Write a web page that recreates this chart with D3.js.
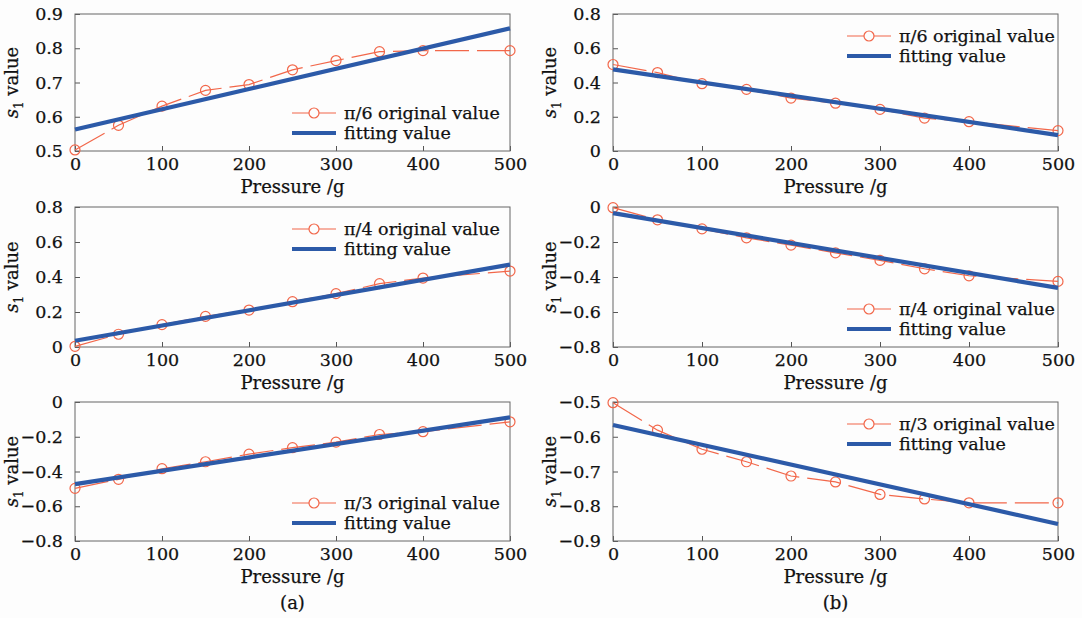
<!DOCTYPE html>
<html>
<head>
<meta charset="utf-8">
<script src="https://cdn.jsdelivr.net/npm/d3@7"></script>
<style>
  body { margin: 0; background: #fdfdfd; }
  text { font-family: "DejaVu Serif", serif; fill: #111; stroke: #111; stroke-width: 0.25px; }
</style>
</head>
<body>
<script>
// pressure values (g) shared by every panel
let pressure = [0, 50, 100, 150, 200, 250, 300, 350, 400, 500];
let xTicks = [0, 100, 200, 300, 400, 500];

// measured s1 values, column (a)
let a1Orig = [0.503, 0.575, 0.631, 0.677, 0.694, 0.737, 0.764, 0.790, 0.793, 0.793];
let a2Orig = [0.004, 0.073, 0.128, 0.175, 0.211, 0.259, 0.305, 0.362, 0.394, 0.434];
let a3Orig = [-0.497, -0.445, -0.384, -0.344, -0.300, -0.263, -0.231, -0.187, -0.171, -0.114];
// measured s1 values, column (b)
let b1Orig = [0.505, 0.458, 0.393, 0.360, 0.309, 0.279, 0.243, 0.192, 0.171, 0.119];
let b2Orig = [-0.004, -0.073, -0.125, -0.176, -0.218, -0.262, -0.305, -0.353, -0.393, -0.425];
let b3Orig = [-0.502, -0.581, -0.636, -0.672, -0.713, -0.730, -0.766, -0.779, -0.790, -0.790];

// fitted lines, value at 0 g and at 500 g
let fitX = [0, 500];
let a1Fit = [0.563, 0.858];
let a2Fit = [0.036, 0.471];
let a3Fit = [-0.473, -0.088];
let b1Fit = [0.477, 0.093];
let b2Fit = [-0.035, -0.462];
let b3Fit = [-0.566, -0.851];

// y ranges and ticks
let a1Y = [0.5, 0.9], a1Ticks = [0.5, 0.6, 0.7, 0.8, 0.9];
let a2Y = [0, 0.8],   a2Ticks = [0, 0.2, 0.4, 0.6, 0.8];
let a3Y = [-0.8, 0],  a3Ticks = [-0.8, -0.6, -0.4, -0.2, 0];
let b1Y = [0, 0.8],   b1Ticks = [0, 0.2, 0.4, 0.6, 0.8];
let b2Y = [-0.8, 0],  b2Ticks = [-0.8, -0.6, -0.4, -0.2, 0];
let b3Y = [-0.9, -0.5], b3Ticks = [-0.9, -0.8, -0.7, -0.6, -0.5];

let angles = ['π/6', 'π/4', 'π/3'];

let w = 1082, h = 618;
let cols = [[75, 510], [613, 1058]];
let rows = [[14, 151], [207, 347], [402, 541]];
let red = '#f2674a', blue = '#2c5aa8';

let panels = [
  {c: 0, r: 0, orig: a1Orig, fit: a1Fit, dom: a1Y, ticks: a1Ticks, leg: 'bottom'},
  {c: 0, r: 1, orig: a2Orig, fit: a2Fit, dom: a2Y, ticks: a2Ticks, leg: 'top'},
  {c: 0, r: 2, orig: a3Orig, fit: a3Fit, dom: a3Y, ticks: a3Ticks, leg: 'bottom'},
  {c: 1, r: 0, orig: b1Orig, fit: b1Fit, dom: b1Y, ticks: b1Ticks, leg: 'top'},
  {c: 1, r: 1, orig: b2Orig, fit: b2Fit, dom: b2Y, ticks: b2Ticks, leg: 'bottom'},
  {c: 1, r: 2, orig: b3Orig, fit: b3Fit, dom: b3Y, ticks: b3Ticks, leg: 'top'}
];

let svg = d3.select('body').append('svg')
  .attr('width', w).attr('height', h)
  .style('background', '#fdfdfd');

let fmt = d => d3.format('~g')(d).replace('-', '\u2212');

panels.forEach(p => {
  let [x0, x1] = cols[p.c];
  let [y0, y1] = rows[p.r];

  let x = d3.scaleLinear().domain([0, 500]).range([x0, x1]);
  let y = d3.scaleLinear().domain(p.dom).range([y1, y0]);

  let g = svg.append('g');

  // axes (ticks inward)
  let xAxis = d3.axisBottom(x).tickValues(xTicks).tickSizeInner(-5).tickSizeOuter(0).tickPadding(7);
  let yAxis = d3.axisLeft(y).tickValues(p.ticks).tickFormat(fmt).tickSizeInner(-5).tickSizeOuter(0).tickPadding(12);

  let gx = g.append('g').attr('transform', 'translate(0,' + y1 + ')').call(xAxis);
  let gy = g.append('g').attr('transform', 'translate(' + x0 + ',0)').call(yAxis);
  [gx, gy].forEach(a => {
    a.select('.domain').remove();
    a.selectAll('line').attr('stroke', '#555');
    a.selectAll('text').style('font-family', '"DejaVu Serif", serif').style('font-size', '17.5px').attr('fill', '#111');
  });

  // box
  g.append('rect')
   .attr('x', x0).attr('y', y0).attr('width', x1 - x0).attr('height', y1 - y0)
   .attr('fill', 'none').attr('stroke', '#666').attr('stroke-width', 1);

  // original values
  let line = d3.line().x(d => x(d[0])).y(d => y(d[1]));
  let pts = pressure.map((v, i) => [v, p.orig[i]]);
  g.append('path').datum(pts).attr('d', line)
   .attr('fill', 'none').attr('stroke', red).attr('stroke-width', 1.2)
   .attr('stroke-dasharray', '34,8');
  g.selectAll('.pt').data(pts).enter().append('circle')
   .attr('cx', d => x(d[0])).attr('cy', d => y(d[1])).attr('r', 5)
   .attr('fill', 'none').attr('stroke', red).attr('stroke-width', 1.2);

  // fitting line
  g.append('path').datum(fitX.map((v, i) => [v, p.fit[i]])).attr('d', line)
   .attr('fill', 'none').attr('stroke', blue).attr('stroke-width', 4.2);

  // axis titles
  g.append('text').attr('x', (x0 + x1) / 2).attr('y', y1 + 42)
   .attr('text-anchor', 'middle').style('font-size', '18px').text('Pressure /g');
  let yl = g.append('text')
   .attr('transform', 'translate(' + (x0 - 57) + ',' + ((y0 + y1) / 2) + ') rotate(-90)')
   .attr('text-anchor', 'middle').style('font-size', '18px');
  yl.append('tspan').style('font-style', 'italic').text('s');
  yl.append('tspan').attr('dy', 5).style('font-size', '12px').text('1');
  yl.append('tspan').attr('dy', -5).text(' value');

  // legend
  let ly = p.leg == 'top' ? y0 + 22 : y1 - 38;
  let lx = x1 - (p.c == 0 ? 218 : 211);
  let leg = g.append('g');
  leg.append('line').attr('x1', lx).attr('x2', lx + 44).attr('y1', ly).attr('y2', ly)
     .attr('stroke', red).attr('stroke-width', 1.2);
  leg.append('circle').attr('cx', lx + 22).attr('cy', ly).attr('r', 5)
     .attr('fill', '#fdfdfd').attr('stroke', red).attr('stroke-width', 1.2);
  leg.append('text').attr('x', lx + 52).attr('y', ly).attr('dy', '0.35em')
     .style('font-size', '17.5px').text(angles[p.r] + ' original value');
  leg.append('line').attr('x1', lx).attr('x2', lx + 44).attr('y1', ly + 20).attr('y2', ly + 20)
     .attr('stroke', blue).attr('stroke-width', 4.2);
  leg.append('text').attr('x', lx + 52).attr('y', ly + 20).attr('dy', '0.35em')
     .style('font-size', '17.5px').text('fitting value');
});

// captions
svg.append('text').attr('x', (cols[0][0] + cols[0][1]) / 2).attr('y', 609)
   .attr('text-anchor', 'middle').style('font-size', '18px').text('(a)');
svg.append('text').attr('x', (cols[1][0] + cols[1][1]) / 2).attr('y', 609)
   .attr('text-anchor', 'middle').style('font-size', '18px').text('(b)');
</script>
</body>
</html>
